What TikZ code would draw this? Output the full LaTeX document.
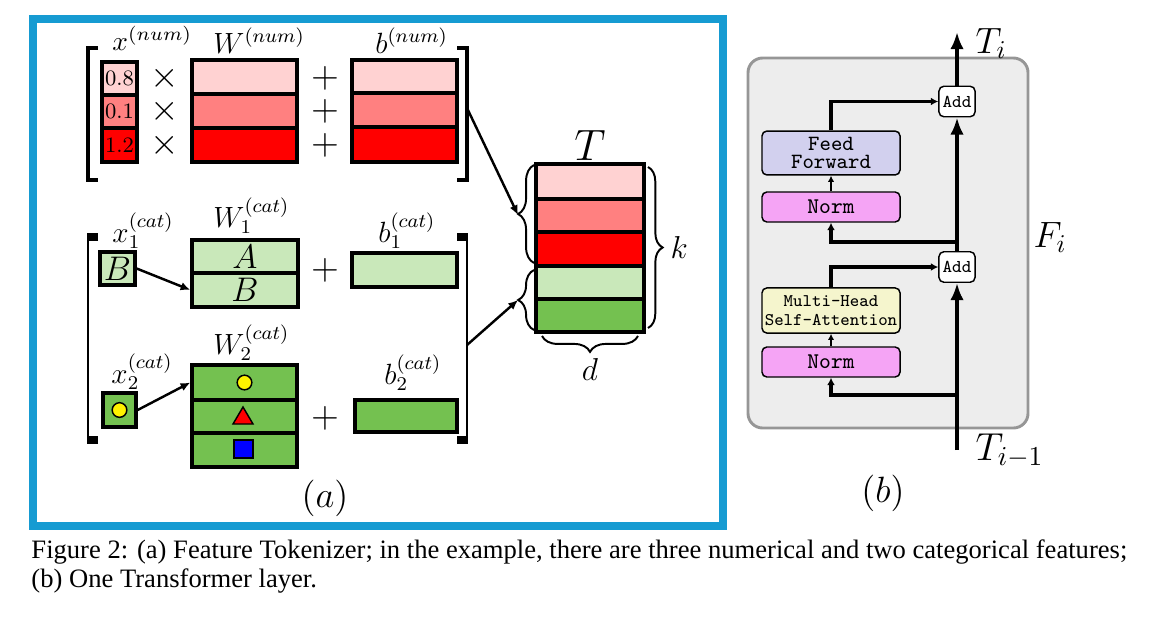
\RequirePackage{fix-cm}
\documentclass[tikz,border=0pt]{standalone}
\usepackage{fontspec}
\newfontfamily\capfont{Liberation Serif}
\usetikzlibrary{arrows.meta}
\usetikzlibrary{positioning}
\usetikzlibrary{fit}
\usetikzlibrary{decorations.pathreplacing}
\definecolor{pinkA}{RGB}{255,210,210}
\definecolor{pinkB}{RGB}{255,128,128}
\definecolor{redC}{RGB}{255,0,0}
\definecolor{greenA}{RGB}{201,232,186}
\definecolor{greenB}{RGB}{116,193,80}
\definecolor{ffcol}{RGB}{210,208,238}
\definecolor{normcol}{RGB}{245,164,245}
\definecolor{mhacol}{RGB}{245,245,205}
\definecolor{layerfill}{RGB}{237,237,237}
\definecolor{layerdraw}{RGB}{150,150,150}
\definecolor{framecol}{RGB}{22,155,210}
\newcommand{\cellbox}[5]{\node(#1)[cell,fill=#2,fit={#3 #4},label={center:#5}]{}}
\newcommand{\sizedmath}[2]{\fontsize{#1}{#1}\selectfont$#2$}

\begin{document}
\begin{tikzpicture}[
        x=0.41pt, y=-0.41pt,
        every node/.style={inner sep=0pt},
        cell/.style={rectangle,draw=black,line width=1.35pt,inner sep=0pt},
        block/.style={rectangle,rounded corners=2pt,draw=black,line width=0.6pt,
                      inner sep=0pt,align=center,minimum width=56.6pt},
        addbox/.style={block,fill=white,minimum width=14.8pt,minimum height=12.5pt,
                       font=\fontsize{7.4}{8}\ttfamily},
        lab/.style={anchor=base west},
        bracket/.style={line width=1.4pt},
        bracket end/.style={line width=3pt},
        curly/.style={decorate,decoration={brace,amplitude=#1},line width=0.8pt},
        thin arrow/.style={-{Latex[length=4pt,width=3.5pt]},line width=1pt},
        mainflow/.style={-{Latex[length=7pt,width=5.5pt]},line width=2pt},
        branch/.style={-{Latex[length=3pt,width=3.2pt]},line width=1.5pt},
        stub/.style={-{Latex[length=2.5pt,width=2.6pt]},line width=0.9pt}
      ]
      \useasboundingbox (0,0) rectangle (1162,616);
      \draw[framecol,line width=3.3pt] (33,19) rectangle (723,526);

      % (a) numerical features
      \cellbox{xn1}{pinkA}{(102,62)}{(137,95)}{\fontsize{9}{9}\selectfont 0.8};
      \cellbox{xn2}{pinkB}{(102,95)}{(137,128)}{\fontsize{9}{9}\selectfont 0.1};
      \cellbox{xn3}{redC}{(102,128)}{(137,162)}{\fontsize{9}{9}\selectfont 1.2};
      \cellbox{wn1}{pinkA}{(192,60)}{(297,94)}{};
      \cellbox{wn2}{pinkB}{(192,94)}{(297,128)}{};
      \cellbox{wn3}{redC}{(192,128)}{(297,162)}{};
      \cellbox{bn1}{pinkA}{(352,60)}{(457,93)}{};
      \cellbox{bn2}{pinkB}{(352,93)}{(457,127)}{};
      \cellbox{bn3}{redC}{(352,127)}{(457,162)}{};
      \node[lab] (xnlabel) at (112,50) {\sizedmath{11.2}{x^{(num)}}};
      \node[lab] (wnlabel) at (213,53) {\sizedmath{12}{W^{(num)}}};
      \node[lab] (bnlabel) at (375,53) {\sizedmath{12}{b^{(num)}}};
      \foreach \y [count=\i] in {78,111,145} {
        \node (times\i) at (165,\y) {\sizedmath{15}{\times}};
        \node (plus\i) at (325,\y) {\sizedmath{15}{+}};
      }
      \draw[bracket] (98,48) -| (88,180) -- (98,180);
      \draw[bracket] (457,48) -| (467,180) -- (457,180);
      \coordinate (numout) at (467,108);

      % (a) categorical features
      \cellbox{xc1}{greenA}{(100,252)}{(135,285)}{\sizedmath{14}{B}};
      \cellbox{wa1}{greenA}{(192,240)}{(298,273)}{\sizedmath{14}{A}};
      \cellbox{wa2}{greenA}{(192,273)}{(298,307)}{\sizedmath{14}{B}};
      \cellbox{ba}{greenA}{(352,253)}{(457,287)}{};
      \cellbox{xc2}{greenB}{(103,393)}{(136,427)}{};
      \cellbox{wb1}{greenB}{(192,365)}{(297,400)}{};
      \cellbox{wb2}{greenB}{(192,400)}{(297,433)}{};
      \cellbox{wb3}{greenB}{(192,433)}{(297,467)}{};
      \cellbox{bb}{greenB}{(355,400)}{(457,432)}{};
      \fill[yellow,draw=black,line width=0.6pt] (xc2) circle (3pt);
      \fill[yellow,draw=black,line width=0.6pt] (wb1) circle (3pt);
      \fill[red,draw=black,line width=0.6pt] (233,424) -- (253,424) -- (243,407) -- cycle;
      \fill[blue,draw=black,line width=0.6pt] (234,440) rectangle (253,458);
      \node[lab] (xalabel) at (112,242) {\sizedmath{12}{x_1^{(cat)}}};
      \node[lab] (walabel) at (213,227) {\sizedmath{12}{W_1^{(cat)}}};
      \node[lab] (balabel) at (378,242) {\sizedmath{12}{b_1^{(cat)}}};
      \node[lab] (xblabel) at (111,383) {\sizedmath{12}{x_2^{(cat)}}};
      \node[lab] (wblabel) at (213,354) {\sizedmath{12}{W_2^{(cat)}}};
      \node[lab] (bblabel) at (384,384) {\sizedmath{12}{b_2^{(cat)}}};
      \node (plus4) at (325,270) {\sizedmath{15}{+}};
      \node (plus5) at (325,418) {\sizedmath{15}{+}};
      \draw[line width=0.8pt] (88,236) -- (88,441);
      \draw[line width=0.8pt] (467,236) -- (467,441);
      \draw[bracket end] (98,237) -- (87,237) (98,440) -- (87,440);
      \draw[bracket end] (457,237) -- (468,237) (457,440) -- (468,440);
      \coordinate (catout) at (467,345);
      \draw[thin arrow] (xc1.east) -- (wa2.west);
      \draw[thin arrow] (xc2.east) -- (wb1.west);

      % (a) tokens
      \cellbox{t1}{pinkA}{(536,164)}{(644,199)}{};
      \cellbox{t2}{pinkB}{(536,199)}{(644,232)}{};
      \cellbox{t3}{redC}{(536,232)}{(644,266)}{};
      \cellbox{t4}{greenA}{(536,266)}{(644,299)}{};
      \cellbox{t5}{greenB}{(536,299)}{(644,332)}{};
      \node[anchor=base] (tlabel) at (590,160) {\sizedmath{18}{T}};
      \draw[curly=6.5pt] (534,263) -- (534,165);
      \draw[curly=6.5pt] (534,330) -- (534,270);
      \draw[curly=6pt] (648,167) -- (648,328);
      \draw[curly=6.5pt] (638,336) -- (542,336);
      \coordinate (numtip) at (518,215);
      \coordinate (cattip) at (518,300);
      \node[lab] (klabel) at (670,258) {\sizedmath{13}{k}};
      \node[anchor=base] (dlabel) at (590,380) {\sizedmath{13}{d}};
      \draw[thin arrow] (numout) -- (numtip);
      \draw[thin arrow] (catout) -- (cattip);
      \node (alabel) at (325,498) {\sizedmath{15}{(a)}};

      % (b) one layer
      \draw[layerdraw,fill=layerfill,line width=1.2pt,rounded corners=6pt] (748,58) rectangle (1028,428);
      \node(norm1)[block,fill=normcol,minimum height=12.3pt,font=\fontsize{9.2}{10}\ttfamily] at (831,362) {Norm};
      \node(mha)[block,fill=mhacol,minimum height=18.5pt,font=\fontsize{7.3}{8}\ttfamily] at (831,310.5) {Multi-Head\\Self-Attention};
      \node(norm2)[block,fill=normcol,minimum height=12.3pt,font=\fontsize{9.2}{10}\ttfamily] at (831,207) {Norm};
      \node(ff)[block,fill=ffcol,minimum height=18pt,font=\fontsize{8.9}{7.4}\ttfamily] at (831,153) {Feed\\Forward};
      \node(add1)[addbox] at (957,267) {Add};
      \node(add2)[addbox] at (957,101.5) {Add};
      \coordinate (tin) at (957,450);
      \coordinate (tout) at (957,32);
      \coordinate (fork1) at (957,395);
      \coordinate (fork2) at (957,242);
      \draw[branch] (fork1) -| (norm1.south);
      \draw[branch] (fork2) -| (norm2.south);
      \draw[stub] (norm1.north) -- (mha.south);
      \draw[stub] (norm2.north) -- (ff.south);
      \draw[branch] (mha.north) |- (add1.west);
      \draw[branch] (ff.north) |- (add2.west);
      \draw[mainflow] (tin) -- (add1.south);
      \draw[mainflow] (add1.north) -- (add2.south);
      \draw[mainflow] (add2.north) -- (tout);
      \node[lab] (tilabel) at (975,53) {\sizedmath{15}{T_i}};
      \node[lab] (filabel) at (1033,247) {\sizedmath{15}{F_i}};
      \node[lab] (tprevlabel) at (975,460) {\sizedmath{16}{T_{i-1}}};
      \node (blabel) at (883,493) {\sizedmath{15}{(b)}};

      % caption
      \node[lab,font=\capfont\fontsize{10.9}{12}\selectfont] (cap1) at (31,558)
        {Figure 2: (a) Feature Tokenizer; in the example, there are three numerical and two categorical features;};
      \node[lab,font=\capfont\fontsize{10.9}{12}\selectfont] (cap2) at (31,587)
        {(b) One Transformer layer.};
    \end{tikzpicture}
\end{document}
